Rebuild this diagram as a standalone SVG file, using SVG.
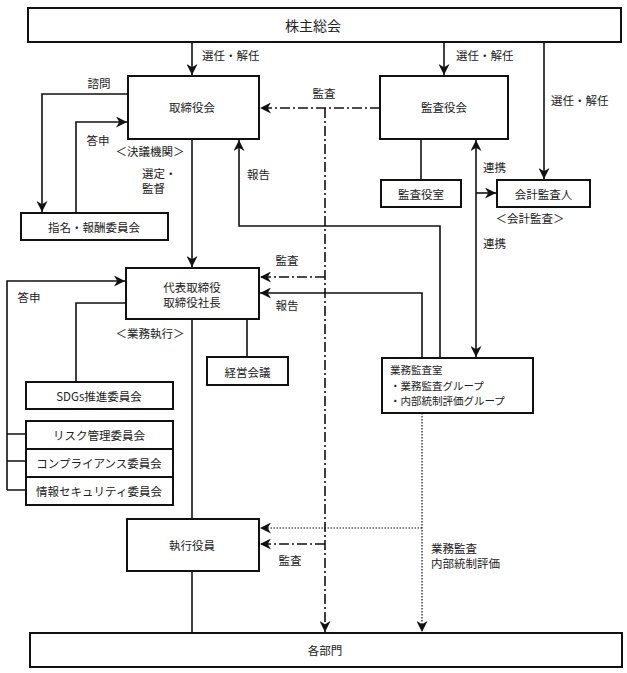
<svg xmlns="http://www.w3.org/2000/svg" width="627" height="673" viewBox="0 0 627 673">
<style>
.box{fill:#fff;stroke:#111;stroke-width:2}
.c{fill:none;stroke:#111;stroke-width:1.6}
.dd{fill:none;stroke:#111;stroke-width:1.6;stroke-dasharray:10,3,2,3}
.dt{fill:none;stroke:#111;stroke-width:1.2;stroke-dasharray:1.5,1.5}
text{font-family:"Noto Sans CJK JP","Noto Sans",sans-serif;font-size:11.5px;fill:#222;dominant-baseline:central}
.m{text-anchor:middle}
.s{font-size:10.5px}
</style>
<defs>
<marker id="a" viewBox="0 0 10 10" refX="10" refY="5" markerWidth="11" markerHeight="11" markerUnits="userSpaceOnUse" orient="auto-start-reverse">
<path d="M0,0 L10,5 L0,10 L3,5 z" fill="#111"/>
</marker>
</defs>
<g id="connectors">
<path class="c" d="M192,42 V75" marker-end="url(#a)"/>
<path class="c" d="M444,42 V75" marker-end="url(#a)"/>
<path class="c" d="M544,42 V179" marker-end="url(#a)"/>
<path class="c" d="M128,94 H42 V212" marker-end="url(#a)"/>
<path class="c" d="M76,213 V122 H127" marker-end="url(#a)"/>
<path class="c" d="M192,139 V267" marker-end="url(#a)"/>
<path class="c" d="M440,358 V226 H239 V140" marker-end="url(#a)"/>
<path class="dd" d="M380,108 H260" marker-end="url(#a)"/>
<path class="dd" d="M325,108 V632" marker-end="url(#a)"/>
<path class="dd" d="M325,277 H260" marker-end="url(#a)"/>
<path class="dd" d="M325,544 H260" marker-end="url(#a)"/>
<path class="c" d="M421,139 V180"/>
<path class="c" d="M476,357 V140" marker-start="url(#a)" marker-end="url(#a)"/>
<path class="c" d="M476,193 H496" marker-end="url(#a)"/>
<path class="c" d="M422,358 V293 H260" marker-end="url(#a)"/>
<path class="c" d="M7,490 V281 H125" marker-end="url(#a)"/>
<path class="c" d="M7,434 H26 M7,461 H26 M7,490 H26"/>
<path class="c" d="M126,303 H76 V382"/>
<path class="c" d="M192,319 V519"/>
<path class="c" d="M247,319 V357"/>
<path class="dt" d="M422,413 V632" marker-end="url(#a)"/>
<path class="dt" d="M422,528 H260" marker-end="url(#a)"/>
<path class="c" d="M192,571 V633"/>
</g>
<g id="n-kabunushi"><rect class="box" x="28" y="8" width="593" height="34"/><text class="m" x="313" y="25" style="font-size:14px">株主総会</text></g>
<g id="n-torishimariyakukai"><rect class="box" x="128" y="76" width="131" height="63"/><text class="m" x="192" y="107">取締役会</text></g>
<g id="n-kansayakukai"><rect class="box" x="380" y="76" width="128" height="63"/><text class="m" x="444" y="107">監査役会</text></g>
<g id="n-shimei"><rect class="box" x="21" y="213" width="147" height="27"/><text class="m" x="94" y="227">指名・報酬委員会</text></g>
<g id="n-kansayakushitsu"><rect class="box" x="381" y="180" width="80" height="27"/><text class="m" x="421" y="194">監査役室</text></g>
<g id="n-kaikei"><rect class="box" x="497" y="180" width="93" height="27"/><text class="m" x="543.5" y="194">会計監査人</text></g>
<g id="n-daihyo"><rect class="box" x="126" y="268" width="133" height="51"/><text class="m" x="192" y="287">代表取締役</text><text class="m" x="192" y="302">取締役社長</text></g>
<g id="n-keiei"><rect class="box" x="207" y="357" width="81" height="28"/><text class="m" x="247.5" y="372">経営会議</text></g>
<g id="n-sdgs"><rect class="box" x="26" y="382" width="147" height="27"/><text class="m" x="99" y="396">SDGs推進委員会</text></g>
<g id="n-risk"><rect class="box" x="26" y="421" width="147" height="28"/><text class="m" x="99" y="435">リスク管理委員会</text></g>
<g id="n-comp"><rect class="box" x="26" y="449" width="147" height="28"/><text class="m" x="99" y="463">コンプライアンス委員会</text></g>
<g id="n-info"><rect class="box" x="26" y="477" width="147" height="28"/><text class="m" x="99" y="491">情報セキュリティ委員会</text></g>
<g id="n-gyomu"><rect class="box" x="382" y="358" width="151" height="55"/><text class="s" x="390" y="369.5">業務監査室</text><text class="s" x="390" y="385">・業務監査グループ</text><text class="s" x="390" y="400.5">・内部統制評価グループ</text></g>
<g id="n-shikko"><rect class="box" x="127" y="519" width="132" height="52"/><text class="m" x="192" y="545">執行役員</text></g>
<g id="n-kakubumon"><rect class="box" x="30" y="633" width="592" height="34"/><text class="m" x="325" y="650">各部門</text></g>
<g id="labels">
<text x="202" y="55">選任・解任</text>
<text x="456" y="55">選任・解任</text>
<text x="551" y="100">選任・解任</text>
<text class="m" x="99" y="83">諮問</text>
<text class="m" x="98" y="140">答申</text>
<text class="m" x="150" y="151">＜決議機関＞</text>
<text x="142" y="173">選定・</text>
<text x="142" y="188">監督</text>
<text x="247" y="174">報告</text>
<text class="m" x="324" y="93">監査</text>
<text x="483" y="167">連携</text>
<text x="483" y="243">連携</text>
<text class="m" x="530" y="218">＜会計監査＞</text>
<text class="m" x="287" y="260">監査</text>
<text class="m" x="287" y="305">報告</text>
<text class="m" x="29" y="297">答申</text>
<text class="m" x="150" y="333">＜業務執行＞</text>
<text class="m" x="290" y="560">監査</text>
<text x="431" y="548">業務監査</text>
<text x="431" y="563">内部統制評価</text>
</g>
</svg>
